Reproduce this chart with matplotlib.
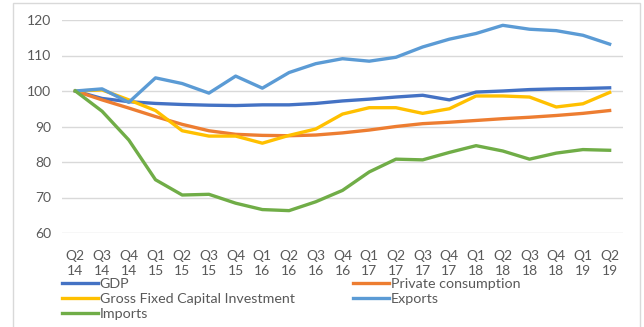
import matplotlib
matplotlib.use("Agg")
import matplotlib.pyplot as plt
from matplotlib.patches import Rectangle

quarters = ["Q2\n14", "Q3\n14", "Q4\n14", "Q1\n15", "Q2\n15", "Q3\n15", "Q4\n15",
            "Q1\n16", "Q2\n16", "Q3\n16", "Q4\n16", "Q1\n17", "Q2\n17", "Q3\n17",
            "Q4\n17", "Q1\n18", "Q2\n18", "Q3\n18", "Q4\n18", "Q1\n19", "Q2\n19"]

gdp = [100, 97.9, 97.0, 96.5, 96.2, 96.0, 95.9, 96.1, 96.1, 96.5, 97.2,
       97.7, 98.3, 98.8, 97.5, 99.7, 100.0, 100.4, 100.6, 100.7, 100.9]
private_consumption = [100, 97.5, 95.2, 92.8, 90.6, 88.8, 87.8, 87.5, 87.4, 87.6, 88.2,
                       89.0, 90.0, 90.8, 91.2, 91.7, 92.2, 92.6, 93.1, 93.7, 94.5]
gfci = [100, 100.3, 97.5, 94.5, 88.8, 87.3, 87.3, 85.3, 87.5, 89.3, 93.5,
        95.3, 95.3, 93.7, 95.0, 98.6, 98.6, 98.3, 95.5, 96.4, 99.6]
exports = [100, 100.6, 96.8, 103.7, 102.1, 99.4, 104.2, 100.8, 105.2, 107.7, 109.1,
           108.4, 109.5, 112.4, 114.6, 116.2, 118.5, 117.4, 117.0, 115.7, 113.2]
imports = [100, 94.3, 86.2, 75.0, 70.7, 70.9, 68.4, 66.6, 66.3, 68.8, 72.0,
           77.2, 80.8, 80.6, 82.7, 84.6, 83.1, 80.8, 82.5, 83.5, 83.3]

plt.rcParams["font.family"] = ["Lato", "DejaVu Sans"]

fig = plt.figure(figsize=(6.44, 3.27), dpi=100)
ax = fig.add_axes([62 / 644, 1 - 233 / 327, (623 - 62) / 644, (233 - 20) / 327])

x = list(range(len(quarters)))
lw = 2.4
l_gdp, = ax.plot(x, gdp, color="#4472C4", lw=lw, label="GDP")
l_pc, = ax.plot(x, private_consumption, color="#ED7D31", lw=lw, label="Private consumption")
l_gf, = ax.plot(x, gfci, color="#FFC000", lw=lw, label="Gross Fixed Capital Investment")
l_ex, = ax.plot(x, exports, color="#5B9BD5", lw=lw, label="Exports")
l_im, = ax.plot(x, imports, color="#70AD47", lw=lw, label="Imports")

ax.set_xlim(-0.5, len(quarters) - 0.5)
ax.set_ylim(60, 120)
ax.set_yticks(range(60, 121, 10))
ax.set_xticks(x)
ax.set_xticklabels(quarters, linespacing=1.3)
ax.tick_params(axis="both", length=0, labelsize=10, labelcolor="#595959")
ax.tick_params(axis="y", pad=8)
ax.tick_params(axis="x", pad=12.5)
ax.grid(axis="y", color="#D9D9D9", lw=1)
ax.set_axisbelow(True)
for s in ax.spines.values():
    s.set_visible(False)

# legend laid out row by row: GDP | Private consumption, GFCI | Exports, Imports
handles = [l_gdp, l_gf, l_im, l_pc, l_ex]
leg = fig.legend(handles=handles, labels=[h.get_label() for h in handles],
                 ncol=2, loc="upper left", bbox_to_anchor=(62 / 644, 1 - 278 / 327),
                 frameon=False, fontsize=10.3, handlelength=2.5, handletextpad=0.14,
                 columnspacing=4.1, labelspacing=0.2, borderpad=0, borderaxespad=0)
for t in leg.get_texts():
    t.set_color("#595959")

fig.patches.append(Rectangle((13 / 644, -0.05), (640 - 13) / 644, 1 - 3 / 327 + 0.05,
                             transform=fig.transFigure, fill=False,
                             edgecolor="#D9D9D9", lw=1))

fig.savefig("out.png", dpi=100)
